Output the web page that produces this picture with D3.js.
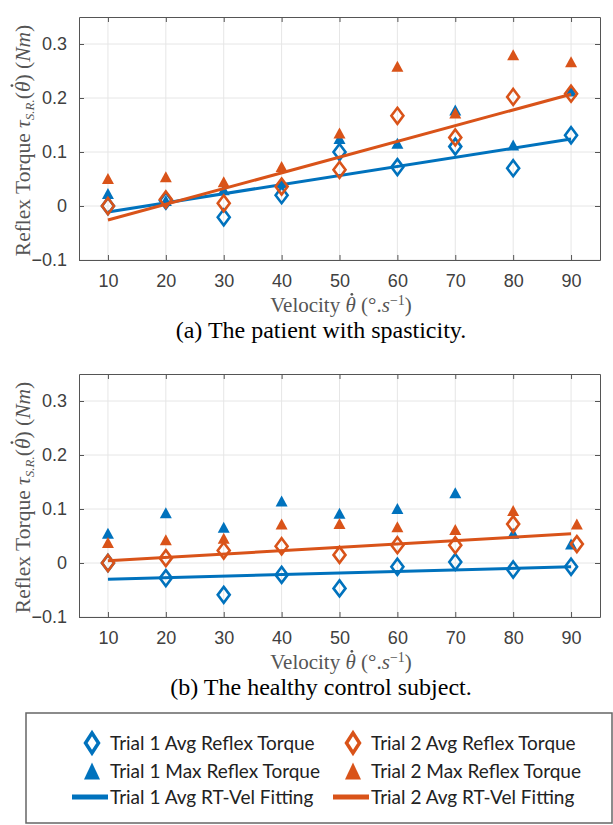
<!DOCTYPE html>
<html>
<head>
<meta charset="utf-8">
<script src="https://cdn.jsdelivr.net/npm/d3@7"></script>
<style>
  body { margin: 0; background: #fff; }
  svg { display: block; }
</style>
</head>
<body>
<svg id="chart" width="613" height="825"></svg>
<script>
// velocities (deg/s)
var velocity = [10, 20, 30, 40, 50, 60, 70, 80, 90];
var fitVelocity = [10, 90];
var yTicks = [-0.1, 0, 0.1, 0.2, 0.3];

// (a) patient with spasticity
var aTrial1Avg = [0.0, 0.01, -0.021, 0.020, 0.100, 0.072, 0.110, 0.070, 0.131];
var aTrial2Avg = [0.0, 0.012, 0.005, 0.036, 0.067, 0.167, 0.127, 0.202, 0.208];
var aTrial1Max = [0.023, 0.01, 0.03, 0.043, 0.125, 0.116, 0.178, 0.113, 0.213];
var aTrial2Max = [0.051, 0.054, 0.045, 0.073, 0.135, 0.259, 0.172, 0.280, 0.267];
var aTrial1Fit = [-0.011, 0.124];
var aTrial2Fit = [-0.026, 0.207];

// (b) healthy control subject
var bVelocity2 = [10, 20, 30, 40, 50, 60, 70, 80, 91];
var bTrial1Avg = [0.0, -0.028, -0.059, -0.022, -0.047, -0.007, 0.002, -0.012, -0.007];
var bTrial2Avg = [0.0, 0.009, 0.023, 0.031, 0.015, 0.033, 0.033, 0.072, 0.035];
var bTrial1Max = [0.055, 0.093, 0.066, 0.115, 0.092, 0.101, 0.130, 0.055, 0.035];
var bTrial2Max = [0.038, 0.043, 0.046, 0.072, 0.073, 0.067, 0.062, 0.097, 0.072];
var bTrial1Fit = [-0.030, -0.007];
var bTrial2Fit = [0.004, 0.054];

var legendLabels = [
  ["Trial 1 Avg Reflex Torque", "Trial 2 Avg Reflex Torque"],
  ["Trial 1 Max Reflex Torque", "Trial 2 Max Reflex Torque"],
  ["Trial 1 Avg RT-Vel Fitting", "Trial 2 Avg RT-Vel Fitting"]
];

var blue = "#0072BD", orange = "#D95319";
var serif = "'Liberation Serif', 'Times New Roman', serif";
var svg = d3.select("#chart");

var x = d3.scaleLinear().domain([5, 95]).range([79, 600]);

function diamond(s, cx, cy, col, w, h, sw) {
  s.append("path")
    .attr("d", "M" + cx + "," + (cy - h) + "L" + (cx + w) + "," + cy + "L" + cx + "," + (cy + h) + "L" + (cx - w) + "," + cy + "Z")
    .attr("fill", "none").attr("stroke", col).attr("stroke-width", sw);
}
function triangle(s, cx, cy, col, w, h) {
  s.append("path")
    .attr("d", "M" + cx + "," + (cy - h / 2) + "L" + (cx + w / 2) + "," + (cy + h / 2) + "L" + (cx - w / 2) + "," + (cy + h / 2) + "Z")
    .attr("fill", col);
}
// italic theta; the dot above is added once the text is laid out
function thetaDot(t) {
  return t.append("tspan").style("font-style", "italic").text("θ");
}
function placeDot(parent, tspan, fs, col) {
  var n = tspan.node();
  var ext = n.getExtentOfChar(0);
  var base = n.getStartPositionOfChar(0).y;
  parent.append("circle")
    .attr("cx", ext.x + ext.width * 0.62)
    .attr("cy", base - fs * 0.84)
    .attr("r", fs * 0.065)
    .attr("fill", col);
}

function drawPanel(top, bottom, d, caption) {
  var y = d3.scaleLinear().domain([-0.1, 0.35]).range([bottom, top]);
  var g = svg.append("g");

  // grid
  g.selectAll(".gx").data(velocity).enter().append("line")
    .attr("x1", v => x(v)).attr("x2", v => x(v))
    .attr("y1", top).attr("y2", bottom)
    .attr("stroke", "#e6e6e6").attr("stroke-width", 1);
  g.selectAll(".gy").data(yTicks).enter().append("line")
    .attr("x1", x.range()[0]).attr("x2", x.range()[1])
    .attr("y1", v => y(v)).attr("y2", v => y(v))
    .attr("stroke", "#e6e6e6").attr("stroke-width", 1);

  // axes
  var xa = g.append("g").attr("transform", "translate(0," + bottom + ")")
    .call(d3.axisBottom(x).tickValues(velocity).tickSizeInner(-5).tickSizeOuter(0).tickPadding(14));
  var xt = g.append("g").attr("transform", "translate(0," + top + ")")
    .call(d3.axisTop(x).tickValues(velocity).tickSizeInner(-5).tickSizeOuter(0).tickFormat(""));
  var ya = g.append("g").attr("transform", "translate(" + x.range()[0] + ",0)")
    .call(d3.axisLeft(y).tickValues(yTicks).tickSizeInner(-5).tickSizeOuter(0).tickPadding(12).tickFormat(d3.format("")));
  var yr = g.append("g").attr("transform", "translate(" + x.range()[1] + ",0)")
    .call(d3.axisRight(y).tickValues(yTicks).tickSizeInner(-5).tickSizeOuter(0).tickFormat(""));
  [xa, xt, ya, yr].forEach(function (a) {
    a.select(".domain").attr("stroke", "#555");
    a.selectAll(".tick line").attr("stroke", "#555");
    a.selectAll(".tick text").attr("fill", "#404040")
      .style("font-family", "'Liberation Sans', Arial, sans-serif").style("font-size", "18px");
  });

  // series
  var m = g.append("g");
  d.t1Avg.forEach((v, i) => diamond(m, x(velocity[i]), y(v), blue, 6, 8, 2.6));
  d.t1Max.forEach((v, i) => triangle(m, x(velocity[i]), y(v), blue, 12, 11));
  var line = d3.line().x(p => x(p[0])).y(p => y(p[1]));
  m.append("path").attr("d", line(fitVelocity.map((v, i) => [v, d.t1Fit[i]])))
    .attr("stroke", blue).attr("stroke-width", 3).attr("fill", "none");
  d.t2Avg.forEach((v, i) => diamond(m, x(d.vel2[i]), y(v), orange, 6, 8, 2.6));
  d.t2Max.forEach((v, i) => triangle(m, x(d.vel2[i]), y(v), orange, 12, 11));
  m.append("path").attr("d", line(fitVelocity.map((v, i) => [v, d.t2Fit[i]])))
    .attr("stroke", orange).attr("stroke-width", 3).attr("fill", "none");

  // x label
  var xg = g.append("g");
  var xl = xg.append("text").attr("x", 341).attr("y", bottom + 52)
    .attr("text-anchor", "middle").attr("fill", "#555")
    .style("font-family", serif).style("font-size", "21px");
  xl.append("tspan").text("Velocity ");
  var xth = thetaDot(xl);
  xl.append("tspan").text(" (°.");
  xl.append("tspan").style("font-style", "italic").text("s");
  xl.append("tspan").attr("dy", -7).style("font-size", "14px").text("−1");
  xl.append("tspan").attr("dy", 7).text(")");
  placeDot(xg, xth, 21, "#555");

  // y label
  var cy = (top + bottom) / 2 + 2;
  var yg = g.append("g").attr("transform", "translate(30," + cy + ") rotate(-90)");
  var yl = yg.append("text")
    .attr("text-anchor", "middle").attr("fill", "#555")
    .style("font-family", serif).style("font-size", "21.5px");
  yl.append("tspan").text("Reflex Torque ");
  yl.append("tspan").style("font-style", "italic").text("τ");
  yl.append("tspan").attr("dy", 4).style("font-style", "italic").style("font-size", "13px").text("S.R.");
  yl.append("tspan").attr("dy", -4).text("(");
  var yth = thetaDot(yl);
  yl.append("tspan").text(") (");
  yl.append("tspan").style("font-style", "italic").text("Nm");
  yl.append("tspan").text(")");
  placeDot(yg, yth, 21.5, "#555");

  // caption
  g.append("text").attr("x", 321).attr("y", bottom + 78)
    .attr("text-anchor", "middle").attr("fill", "#000")
    .style("font-family", serif).style("font-size", "24px")
    .text(caption);
}

drawPanel(17, 260, {
  t1Avg: aTrial1Avg, t2Avg: aTrial2Avg, t1Max: aTrial1Max, t2Max: aTrial2Max,
  t1Fit: aTrial1Fit, t2Fit: aTrial2Fit, vel2: velocity
}, "(a) The patient with spasticity.");

drawPanel(374, 617, {
  t1Avg: bTrial1Avg, t2Avg: bTrial2Avg, t1Max: bTrial1Max, t2Max: bTrial2Max,
  t1Fit: bTrial1Fit, t2Fit: bTrial2Fit, vel2: bVelocity2
}, "(b) The healthy control subject.");

// legend
var lg = svg.append("g");
lg.append("rect").attr("x", 26).attr("y", 713).attr("width", 586).attr("height", 110)
  .attr("fill", "#fff").attr("stroke", "#666").attr("stroke-width", 1.5);
var rowY = [743, 771, 797];
var colX = [92, 353];
var colors = [blue, orange];
legendLabels.forEach(function (row, r) {
  row.forEach(function (label, c) {
    var sx = colX[c], sy = rowY[r];
    if (r === 0) diamond(lg, sx, sy, colors[c], 6.5, 10, 3.5);
    else if (r === 1) triangle(lg, sx, sy, colors[c], 16, 17);
    else lg.append("line").attr("x1", sx - 20).attr("x2", sx + 16).attr("y1", sy).attr("y2", sy)
      .attr("stroke", colors[c]).attr("stroke-width", 5);
    lg.append("text").attr("x", sx + 18).attr("y", sy).attr("dy", "0.35em")
      .attr("fill", "#222")
      .style("font-family", "Lato, 'Open Sans', sans-serif").style("font-size", "19px")
      .text(label);
  });
});
</script>
</body>
</html>
